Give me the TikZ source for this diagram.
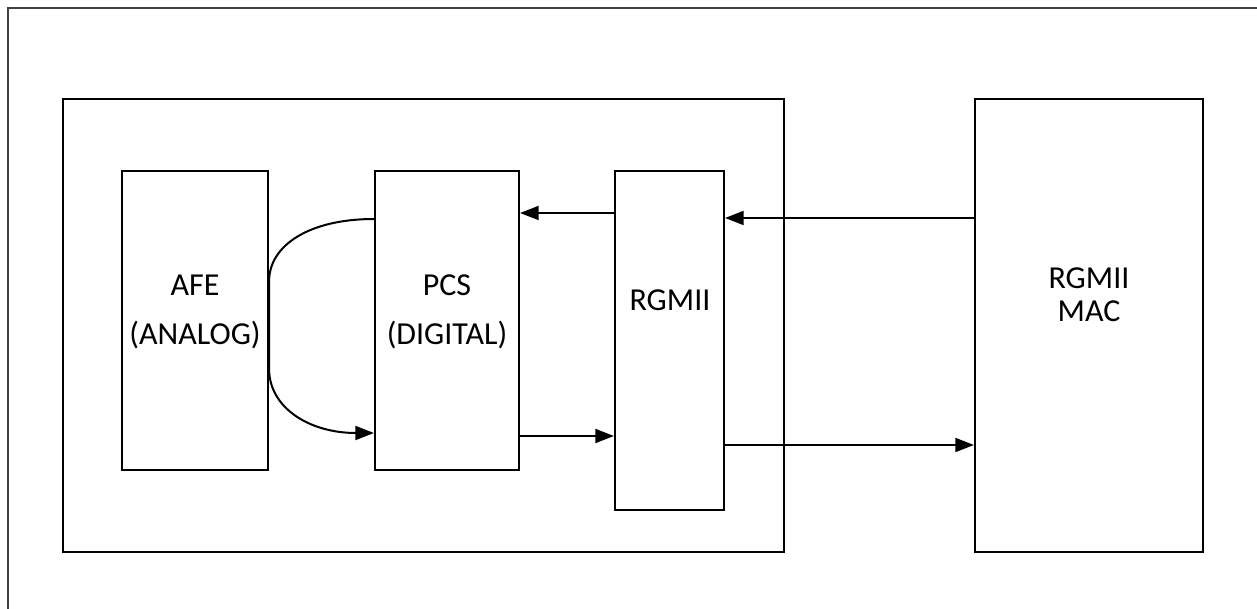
\documentclass[tikz,border=0pt]{standalone}
\usepackage{fontspec}
\setmainfont{Carlito}
\usetikzlibrary{fit,arrows.meta}
\begin{document}
\begin{tikzpicture}[x=0.75pt,y=-0.75pt,
  box/.style={draw=black,line width=1.6pt,inner sep=0pt},
  lbl/.style={font=\fontsize{24}{28}\selectfont,inner sep=0pt},
  arr/.style={line width=1.5pt,-{Triangle[length=14pt,width=10.5pt]}},
  frame/.style={draw=black!75,line width=1.3pt}]
\useasboundingbox (0,0) rectangle (1257,609);
\fill[white] (0,0) rectangle (1257,609);
% outer frame (top and left edges)
\coordinate (fa) at (1257,8);
\coordinate (fb) at (8,8);
\coordinate (fc) at (8,609);
\draw[frame] (fa) -- (fb) -- (fc);
% boxes
\node[box,fit={(63,99) (784,552)}] (chip) {};
\node[box,fit={(122,171) (268,470)}] (afe) {};
\node[box,fit={(375,171) (519,470)}] (pcs) {};
\node[box,fit={(615,171) (724,510)}] (rgmii) {};
\node[box,fit={(975,99) (1203,552)}] (mac) {};
% labels
\node[lbl] (afet) at (195,285) {AFE};
\node[lbl] (afeb) at (195,335) {(ANALOG)};
\node[lbl] (pcst) at (447,285) {PCS};
\node[lbl] (pcsb) at (447,335) {(DIGITAL)};
\node[lbl] (rgt) at (670,300) {RGMII};
\node[lbl] (mact) at (1089,278) {RGMII};
\node[lbl] (macb) at (1089,311) {MAC};
% connectors
\draw[arr] (rgmii.west |- 0,213) -- (pcs.east |- 0,213);
\draw[arr] (pcs.east |- 0,436) -- (rgmii.west |- 0,436);
\draw[arr] (mac.west |- 0,218) -- (rgmii.east |- 0,218);
\draw[arr] (rgmii.east |- 0,445) -- (mac.west |- 0,445);
\coordinate (cs) at (pcs.west |- 0,219);
\coordinate (c1) at (afe.east |- 0,283);
\coordinate (c2) at (afe.east |- 0,367);
\coordinate (ce) at (pcs.west |- 0,433);
\draw[arr] (cs) .. controls (310,219) and (268,245) .. (c1) -- (c2)
  .. controls (268,408) and (310,433) .. (ce);
\end{tikzpicture}
\end{document}
